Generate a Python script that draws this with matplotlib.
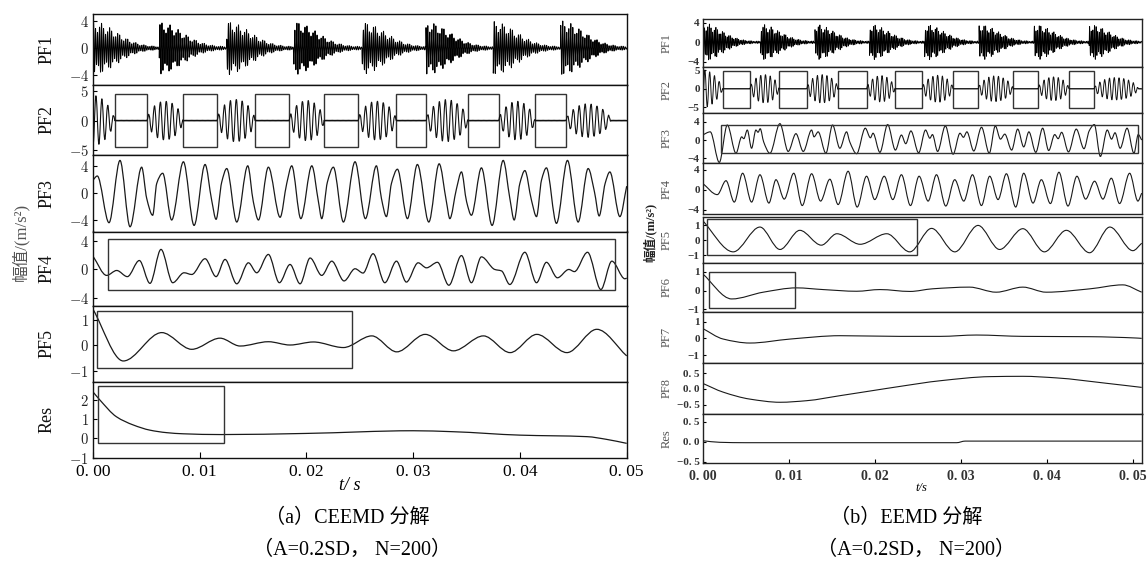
import numpy as np
import matplotlib
matplotlib.use("Agg")
import matplotlib.pyplot as plt
from matplotlib.path import Path
from matplotlib.patches import PathPatch, Rectangle
from matplotlib.ticker import FuncFormatter

plt.rcParams['mathtext.fontset'] = 'cm'
plt.rcParams['path.simplify'] = False
CJK = ['Liberation Serif', 'Noto Sans CJK SC']

# ---------------- (a) CEEMD, times in ms ----------------
a_pf1_onset = [0.0, 6.21, 12.53, 18.78, 25.2, 31.2, 37.5, 43.8]
a_pf1_peak = [3.7, 3.6, 3.7, 3.7, 3.6, 3.7, 3.7, 3.8]

a_pf2_box = [(2.06, 5.06), (8.43, 11.62), (15.18, 18.37), (21.65, 24.84),
             (28.4, 31.2), (35.15, 38.0), (41.4, 44.3)]
a_pf2_amp = [4.2, 3.3, 3.6, 3.4, 3.3, 3.5, 3.2, 2.8]
a_pf2_end = 48.5

a_pf3_t = [0, 0.40, 1.50, 2.53, 3.47, 4.56, 5.03, 5.59, 5.97, 6.53, 7.37, 8.47, 9.47, 10.50,
           11.12, 11.53, 12.06, 12.53, 13.47, 14.50, 15.02, 15.50, 16.43, 17.53, 18.15, 18.62,
           19.47, 20.50, 21.12, 21.43, 21.96, 22.52, 23.46, 24.55, 25.52, 26.55, 27.02, 27.49,
           27.96, 28.52, 29.46, 30.39, 31.46, 32.43, 33.11, 33.43, 34.05, 34.52, 35.0, 35.45,
           36.39, 37.39, 38.43, 39.05, 39.46, 39.99, 40.46, 41.08, 41.55, 42.02, 42.48, 43.42,
           44.45, 45.45, 46.39, 46.98, 47.42, 47.98, 48.42, 49.36, 50.0]
a_pf3_v = [1.9, 2.5, -4.4, 4.8, -5.0, 3.8, -0.8, -3.3, 1.4, 2.9, -4.0, 4.6, -4.8, 4.2,
           -1.1, -3.9, 1.6, 3.6, -4.3, 4.0, -1.3, -4.0, 3.8, -3.6, 1.4, 4.0,
           -3.8, 4.0, -1.3, -3.8, 1.6, 3.8, -4.3, 4.6, -3.8, 4.0, -0.8, -3.5,
           1.4, 3.5, -3.8, 4.2, -4.3, 4.3, -1.3, -3.8, 0.6, 3.1, -1.3, -3.3,
           3.7, -4.8, 4.8, -0.8, -4.0, 1.4, 3.3, -1.1, -3.5, 1.9, 3.7, -4.5,
           4.8, -4.3, 3.6, 0.15, -3.4, 1.4, 3.1, -3.5, 1.0]

a_pf4_t = [0, 1.28, 2.22, 3.22, 4.34, 5.34, 6.37, 7.47, 8.53, 9.25, 10.50, 11.53, 12.37,
           13.47, 14.56, 15.34, 16.43, 17.46, 18.46, 19.40, 20.34, 21.43, 22.37, 23.52,
           24.55, 25.3, 26.24, 27.34, 28.43, 29.36, 30.46, 31.24, 32.27, 33.34, 34.52,
           35.45, 36.39, 37.64, 38.27, 39.05, 40.46, 41.55, 42.48, 43.51, 44.58, 45.1,
           46.33, 47.58, 48.61, 49.83, 50.0]
a_pf4_v = [1.85, -0.83, -0.14, -1.0, 1.25, -1.94, 2.8, -1.85, -0.46, -0.7, 1.5, -1.0, 1.4,
           -2.0, 0.93, -0.46, 2.1, -1.85, 0.7, -2.0, 1.6, -0.83, 1.16, -1.6,
           0.1, -0.5, 2.2, -1.85, 1.16, -1.76, 0.93, 0.23, 1.0, -2.2, 1.94,
           -1.85, 1.76, 0.0, -0.2, -2.1, 2.4, -1.85, 1.0, -1.16, 0.0, -0.3,
           2.4, -2.8, 1.16, -1.3, -1.2]

a_pf5_t = [0, 2.84, 6.44, 9.25, 11.9, 13.78, 16.43, 18.46, 20.65, 23.46, 26.12, 28.46,
           31.12, 33.77, 36.58, 39.08, 41.58, 44.4, 47.2, 50.0]
a_pf5_v = [1.42, -0.62, 0.5, -0.16, 0.28, -0.03, 0.14, 0.01, 0.13, -0.09, 0.37, -0.26,
           0.43, -0.22, 0.37, -0.29, 0.43, -0.29, 0.63, -0.42]

a_res_t = [0, 0.66, 2.2, 3.78, 5.34, 6.9, 8.46, 12.0, 20.0, 30.0, 33.7, 40.0, 46.3, 48.1, 50.0]
a_res_v = [2.43, 2.0, 1.13, 0.7, 0.43, 0.3, 0.24, 0.2, 0.26, 0.4, 0.35, 0.17, 0.09, -0.05, -0.26]

# boxes: (t0, t1, y0, y1)
a_pf4_box = (1.43, 48.9, -2.9, 4.3)
a_pf5_box = (0.35, 24.3, -0.91, 1.35)
a_res_box = (0.5, 12.3, -0.23, 2.74)
a_pf2_box_y = (-4.4, 4.4)

# ---------------- (b) EEMD ----------------
b_pf1_onset = [0.0, 6.75, 13.05, 19.4, 25.8, 32.1, 38.5, 44.9]
b_pf1_peak = [3.8, 3.5, 3.5, 3.5, 3.5, 3.5, 3.5, 3.5]

b_pf2_box = [(2.34, 5.51), (8.91, 12.09), (15.75, 19.05), (22.33, 25.5),
             (29.1, 32.0), (36.06, 38.96), (42.55, 45.45)]
b_pf2_amp = [5.0, 3.8, 3.8, 3.5, 3.6, 3.4, 3.2, 3.0]
b_pf2_end = 50.6
b_pf2_box_y = (-5.1, 4.76)

b_pf3_t = [0, 0.9, 1.95, 2.88, 3.89, 4.55, 4.8, 5.2, 5.7, 6.2, 6.45, 6.7, 7.1, 7.83, 8.99,
           9.95, 10.85, 11.7, 12.67, 12.95, 13.43, 14.33, 15.1, 15.95, 16.73, 17.1, 17.9,
           18.9, 19.5, 19.8, 20.6, 21.5, 22.4, 23.1, 23.6, 24.2, 25.1, 25.9, 26.4, 26.7,
           27.3, 28.2, 29.1, 29.9, 30.3, 30.7, 31.5, 32.4, 33.3, 34.0, 34.6, 35.1, 35.9,
           36.6, 37.3, 37.9, 38.7, 39.5, 40.2, 40.9, 41.3, 41.7, 42.5, 43.4, 44.3, 44.9,
           45.5, 46.2, 47.0, 47.5, 47.9, 48.5, 49.3, 50.1, 50.6, 51.0]
b_pf3_v = [1.1, 1.8, -4.9, 3.3, -2.9, 0.7, 0.3, 2.2, -1.8, 2.2, 1.7, 2.5, -0.4, -2.9, 3.6,
           -2.5, 1.4, -2.5, 2.2, 0.7, 1.8, -2.9, 3.3, -1.8, 1.8, -0.4, -3.0,
           2.6, 0.5, 1.5, -2.7, 3.4, -2.2, 1.1, -0.8, 2.0, -2.8, 2.2, 0.4, 1.2,
           -2.5, 3.1, -3.1, 1.5, 0.6, 1.8, -2.4, 2.8, -2.9, 3.1, 0.2, 1.3, -2.2,
           2.4, -1.5, 1.8, -2.7, 2.6, -2.3, 1.2, 0.3, 1.7, -2.6, 2.4, -1.9, 2.0,
           3.4, -3.6, 2.2, 0.2, 1.6, -1.8, 2.6, -2.9, 1.2, 0.0]

b_pf4_t = [0, 1.72, 2.73, 3.69, 4.66, 5.7, 6.67, 7.71, 8.53, 9.49, 10.6, 11.58, 12.67, 13.71,
           14.79, 15.75, 16.91, 17.96, 19.05, 20.0, 21.1, 22.1, 23.1, 24.15, 25.15, 26.2,
           27.17, 28.25, 29.29, 30.34, 31.35, 32.39, 33.35, 34.32, 35.29, 36.37, 37.3,
           38.38, 39.35, 40.4, 41.39, 42.44, 43.48, 44.49, 45.53, 46.5, 47.47, 48.43,
           49.6, 50.56, 51.0]
b_pf4_v = [1.3, -1.0, 1.8, -2.5, 3.3, -2.5, 3.0, -2.7, 2.0, -1.9, 3.3, -3.2, 3.2, -2.3,
           2.1, -3.0, 3.7, -3.5, 2.7, -2.0, 2.7, -2.0, 3.0, -3.2, 2.7, -2.3,
           3.0, -3.3, 2.0, -2.3, 3.0, -3.2, 2.7, -2.0, 3.2, -3.5, 3.3,
           -2.7, 2.0, -2.8, 3.5, -3.3, 2.7, -1.9, 1.7, -1.9, 2.3, -2.8,
           3.3, -2.3, -0.7]

b_pf5_t = [0, 3.57, 6.67, 9.0, 11.3, 13.8, 15.6, 18.3, 21.4, 24.07, 26.6, 29.3, 32.0, 34.5,
           37.2, 39.7, 42.25, 44.95, 47.3, 49.98, 51.0]
b_pf5_v = [1.33, -0.78, 0.89, -0.62, 0.67, -0.33, 0.44, -0.27, 0.44, -0.78, 0.8, -0.78,
           1.0, -0.62, 0.78, -0.78, 0.67, -0.84, 0.89, -0.7, -0.2]

b_pf6_t = [0, 3.39, 7.05, 10.9, 14.0, 17.9, 20.6, 24.1, 26.7, 31.0, 34.1, 37.2, 39.9, 45.0, 48.8, 51.0]
b_pf6_v = [0.9, -0.45, -0.09, 0.14, 0.05, -0.04, 0.05, -0.05, 0.09, 0.18, -0.09, 0.18, -0.09, 0.09, 0.3, -0.09]

b_pf7_t = [0, 2.4, 5.5, 10.2, 16.0, 22.9, 27.6, 31.8, 37.2, 45.0, 50.4, 51.0]
b_pf7_v = [0.6, -0.04, -0.28, -0.04, 0.16, 0.12, 0.12, 0.2, 0.12, 0.1, 0.02, 0.0]

b_pf8_t = [0, 2.4, 5.5, 9.0, 12.1, 16.0, 19.8, 22.9, 27.6, 33.4, 37.2, 41.1, 46.9, 51.0]
b_pf8_v = [0.18, -0.1, -0.32, -0.42, -0.37, -0.21, -0.05, 0.08, 0.26, 0.39, 0.4, 0.35, 0.18, 0.05]

b_res_t = [0, 2.0, 5.0, 29.5, 30.5, 51.0]
b_res_v = [0.02, -0.02, -0.03, -0.03, 0.01, 0.01]

b_pf3_box = (2.15, 50.55, -2.9, 3.4)
b_pf5_box = (0.49, 24.9, -1.0, 1.4)
b_pf6_box = (0.75, 10.73, -0.93, 0.97)


def smooth_path(tm, v):
    # monotone cubic through the read extrema, drawn as bezier segments
    x = np.asarray(tm, float) / 1000.0
    y = np.asarray(v, float)
    h = np.diff(x)
    d = np.diff(y) / h
    m = np.zeros_like(y)
    m[0], m[-1] = d[0], d[-1]
    for i in range(1, len(y) - 1):
        if d[i - 1] * d[i] > 0:
            w1 = 2 * h[i] + h[i - 1]
            w2 = h[i] + 2 * h[i - 1]
            m[i] = (w1 + w2) / (w1 / d[i - 1] + w2 / d[i])
    verts = [(x[0], y[0])]
    codes = [Path.MOVETO]
    for i in range(len(h)):
        verts += [(x[i] + h[i] / 3, y[i] + m[i] * h[i] / 3),
                  (x[i + 1] - h[i] / 3, y[i + 1] - m[i + 1] * h[i] / 3),
                  (x[i + 1], y[i + 1])]
        codes += [Path.CURVE4] * 3
    return Path(verts, codes)


def draw_smooth(ax, tm, v, color='#1a1a1a', lw=0.9):
    ax.add_patch(PathPatch(smooth_path(tm, v), fill=False, ec=color, lw=lw))


t_ms = np.arange(0, 51.0, 0.004)


def pf1_signal(onsets, peaks, width=3.0):
    env = np.full_like(t_ms, 0.2)
    for on, pk in zip(onsets, peaks):
        k = t_ms >= on
        env[k] = pk * np.exp(-((t_ms[k] - on) / width) ** 2) + 0.2
    beat = 0.8 + 0.2 * np.cos(2 * np.pi * 1.25 * t_ms)
    return env * beat * np.sin(2 * np.pi * 5.3 * t_ms)


def pf2_signal(boxes, amps, end, f=1.8):
    starts = [0.0] + [b[1] for b in boxes]
    ends = [b[0] for b in boxes] + [end]
    y = 0.06 * np.sin(2 * np.pi * 8.7 * t_ms)
    for s, e, A in zip(starts, ends, amps):
        k = (t_ms >= s) & (t_ms <= e)
        u = (t_ms[k] - s) / (e - s)
        if s == 0:
            w = np.cos(np.pi / 2 * u) ** 0.7
            y[k] += -A * w * np.cos(2 * np.pi * f * (t_ms[k] - s))
        else:
            w = np.sin(np.pi * u) ** 0.6
            y[k] += A * w * np.sin(2 * np.pi * f * (t_ms[k] - s))
    return y


def add_box(ax, box, color='#333333', lw=1.0):
    t0, t1, y0, y1 = box
    ax.add_patch(Rectangle((t0 / 1000, y0), (t1 - t0) / 1000, y1 - y0,
                           fill=False, ec=color, lw=lw))


def sec_fmt(x, pos):
    return f"{x:.2f}".replace('.', '. ')


W, H = 1148, 563
fig = plt.figure(figsize=(11.48, 5.63), dpi=100)

# ---------------- panel (a) ----------------
a_rows = [14, 85, 155, 231.5, 306, 382, 457.5]
a_names = ['PF1', 'PF2', 'PF3', 'PF4', 'PF5', 'Res']
a_ylims = [(-5.4, 5.0), (-5.8, 6.0), (-5.7, 5.6), (-5.1, 5.3), (-1.45, 1.55), (-1.0, 2.95)]
a_yticks = [[-4, 0, 4], [-5, 0, 5], [-4, 0, 4], [-4, 0, 4], [-1, 0, 1], [-1, 0, 1, 2]]
ax0, ax1 = 93, 626.7
a_axes = []
for i, name in enumerate(a_names):
    top, bot = a_rows[i], a_rows[i + 1]
    ax = fig.add_axes([ax0 / W, 1 - bot / H, (ax1 - ax0) / W, (bot - top) / H])
    ax.set_xlim(0, 0.05)
    ax.set_ylim(*a_ylims[i])
    ax.set_yticks(a_yticks[i])
    ax.set_yticklabels([f'${v}$' for v in a_yticks[i]], fontsize=10.5, color='#222222')
    ax.tick_params(axis='y', direction='in', length=3, pad=3, width=0.8)
    for s in ax.spines.values():
        s.set_linewidth(1.0)
        s.set_color('#111111')
    ax.text(-0.086, 0.5, name, transform=ax.transAxes, rotation=90, ha='center', va='center',
            fontsize=13, family='Liberation Serif', color='#111111')
    if i < len(a_names) - 1:
        ax.set_xticks([])
    else:
        ax.set_xticks([0, 0.01, 0.02, 0.03, 0.04, 0.05])
        ax.xaxis.set_major_formatter(FuncFormatter(sec_fmt))
        ax.tick_params(axis='x', direction='in', length=4, pad=5, labelsize=12.5)
        for lab in ax.get_xticklabels():
            lab.set_family('Liberation Serif')
    a_axes.append(ax)

ts = t_ms / 1000
a_axes[0].plot(ts, pf1_signal(a_pf1_onset, a_pf1_peak), color='#000000', lw=0.7)
a_axes[1].plot(ts, pf2_signal(a_pf2_box, a_pf2_amp, a_pf2_end), color='#111111', lw=0.8)
for b in a_pf2_box:
    add_box(a_axes[1], (b[0], b[1]) + a_pf2_box_y)
draw_smooth(a_axes[2], a_pf3_t, a_pf3_v)
draw_smooth(a_axes[3], a_pf4_t, a_pf4_v)
add_box(a_axes[3], a_pf4_box)
draw_smooth(a_axes[4], a_pf5_t, a_pf5_v)
add_box(a_axes[4], a_pf5_box)
draw_smooth(a_axes[5], a_res_t, a_res_v)
add_box(a_axes[5], a_res_box)

fig.text(20 / W, 1 - 242 / H, '幅值/(m/s²)', rotation=90, ha='center', va='center',
         fontsize=12, family=CJK, color='#555555')
fig.text(350 / W, 1 - 485 / H, 't/ s', ha='center', va='center', fontsize=13,
         family='Liberation Serif', style='italic')
fig.text(347 / W, 1 - 518 / H, '（a）CEEMD 分解', ha='center', va='center',
         fontsize=14.5, family=CJK)
fig.text(352 / W, 1 - 550 / H, '（A=0.2SD， N=200）', ha='center', va='center',
         fontsize=14.5, family=CJK)

# ---------------- panel (b) ----------------
b_rows = [(19.3, 66.7), (66.7, 112.7), (112.7, 163.3), (163.3, 214.5), (216.5, 263.3),
          (263.3, 311.7), (311.7, 362.7), (362.7, 414.3), (414.3, 462.7)]
b_names = ['PF1', 'PF2', 'PF3', 'PF4', 'PF5', 'PF6', 'PF7', 'PF8', 'Res']
b_ylims = [(-5, 4.7), (-6.4, 5.9), (-5.1, 6.0), (-5, 5.3), (-1.55, 1.6), (-1.13, 1.45),
           (-1.46, 1.6), (-0.8, 0.83), (-0.53, 0.68)]
b_yticks = [[-4, 0, 4], [-5, 0, 5], [-4, 0, 4], [-4, 0, 4], [-1, 0, 1], [-1, 0, 1],
            [-1, 0, 1], [-0.5, 0, 0.5], [-0.5, 0, 0.5]]
bx0, bx1 = 702.5, 1141.7
b_axes = []
for i, name in enumerate(b_names):
    top, bot = b_rows[i]
    ax = fig.add_axes([bx0 / W, 1 - bot / H, (bx1 - bx0) / W, (bot - top) / H])
    ax.set_xlim(0, 0.051)
    ax.set_ylim(*b_ylims[i])
    ax.set_yticks(b_yticks[i])
    if isinstance(b_yticks[i][0], float):
        labs = [f'{v:.1f}'.replace('.', '. ').replace('-', '−') for v in b_yticks[i]]
    else:
        labs = [str(v).replace('-', '−') for v in b_yticks[i]]
    ax.set_yticklabels(labs, fontsize=8, color='#333333', family='Liberation Serif',
                       fontweight='bold')
    ax.tick_params(axis='y', direction='in', length=2.5, pad=2, width=0.8)
    for s in ax.spines.values():
        s.set_linewidth(1.0)
        s.set_color('#222222')
    ax.text(-0.082, 0.5, name, transform=ax.transAxes, rotation=90, ha='center', va='center',
            fontsize=9, family='Liberation Serif', color='#555555')
    if i < len(b_names) - 1:
        ax.set_xticks([])
    else:
        ax.set_xticks([0, 0.01, 0.02, 0.03, 0.04, 0.05])
        ax.xaxis.set_major_formatter(FuncFormatter(sec_fmt))
        ax.tick_params(axis='x', direction='in', length=3, pad=5, labelsize=10, labelcolor='#333333')
        for lab in ax.get_xticklabels():
            lab.set_family('Liberation Serif')
            lab.set_fontweight('bold')
    b_axes.append(ax)

b_axes[0].plot(ts, pf1_signal(b_pf1_onset, b_pf1_peak), color='#000000', lw=0.6)
b_axes[1].plot(ts, pf2_signal(b_pf2_box, b_pf2_amp, b_pf2_end), color='#111111', lw=0.7)
for b in b_pf2_box:
    add_box(b_axes[1], (b[0], b[1]) + b_pf2_box_y)
draw_smooth(b_axes[2], b_pf3_t, b_pf3_v, lw=0.8)
add_box(b_axes[2], b_pf3_box)
draw_smooth(b_axes[3], b_pf4_t, b_pf4_v, lw=0.8)
draw_smooth(b_axes[4], b_pf5_t, b_pf5_v, lw=0.8)
add_box(b_axes[4], b_pf5_box)
draw_smooth(b_axes[5], b_pf6_t, b_pf6_v, lw=0.8)
add_box(b_axes[5], b_pf6_box)
draw_smooth(b_axes[6], b_pf7_t, b_pf7_v, lw=0.8)
draw_smooth(b_axes[7], b_pf8_t, b_pf8_v, lw=0.8)
draw_smooth(b_axes[8], b_res_t, b_res_v, lw=0.8)

fig.text(650 / W, 1 - 232 / H, '幅值/(m/s²)', rotation=90, ha='center', va='center',
         fontsize=9, family=CJK, fontweight='bold', color='#222222')
fig.text(921 / W, 1 - 488 / H, 't/s', ha='center', va='center', fontsize=9,
         family='Liberation Serif', style='italic')
fig.text(906 / W, 1 - 518 / H, '（b）EEMD 分解', ha='center', va='center',
         fontsize=14.5, family=CJK)
fig.text(916 / W, 1 - 550 / H, '（A=0.2SD， N=200）', ha='center', va='center',
         fontsize=14.5, family=CJK)

fig.savefig('out.png', dpi=100)
